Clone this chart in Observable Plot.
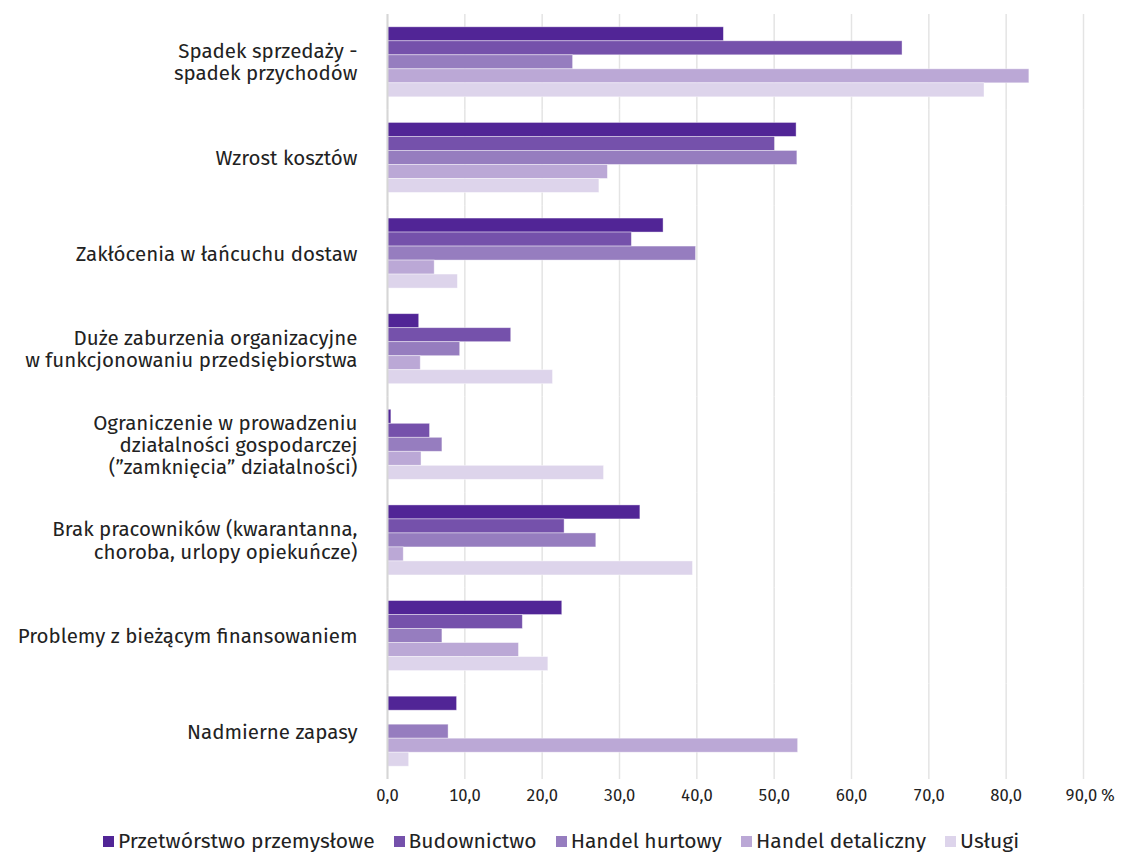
<!DOCTYPE html>
<html>
<head>
<meta charset="utf-8">
<script src="https://cdn.jsdelivr.net/npm/d3@7"></script>
<script src="https://cdn.jsdelivr.net/npm/@observablehq/plot@0.6"></script>
<style>
  body { margin: 0; background: #fff; font-family: "Fira Sans", Roboto, sans-serif; }
  #legend { display: flex; justify-content: center; align-items: center; gap: 19px; font-size: 21px; color: #222; height: 36px; padding-top: 12px; }
  #legend .item { display: flex; align-items: center; gap: 4px; }
  #legend .sw { width: 11px; height: 11px; display: inline-block; }
</style>
</head>
<body>
<div id="chart"></div>
<div id="legend"></div>
<script>
const categories = [
  "Spadek sprzedaży -\nspadek przychodów",
  "Wzrost kosztów",
  "Zakłócenia w łańcuchu dostaw",
  "Duże zaburzenia organizacyjne\nw funkcjonowaniu przedsiębiorstwa",
  "Ograniczenie w prowadzeniu\ndziałalności gospodarczej\n(”zamknięcia” działalności)",
  "Brak pracowników (kwarantanna,\nchoroba, urlopy opiekuńcze)",
  "Problemy z bieżącym finansowaniem",
  "Nadmierne zapasy"
];
const series = ["Przetwórstwo przemysłowe", "Budownictwo", "Handel hurtowy", "Handel detaliczny", "Usługi"];
const przetworstwo = [43.5, 52.9, 35.7, 4.1, 0.5, 32.7, 22.6, 9.0];
const budownictwo  = [66.6, 50.1, 31.6, 16.0, 5.5, 22.9, 17.5, null];
const hurtowy      = [24.0, 53.0, 39.9, 9.4, 7.1, 27.0, 7.1, 7.9];
const detaliczny   = [83.0, 28.5, 6.1, 4.3, 4.4, 2.1, 17.0, 53.1];
const uslugi       = [77.2, 27.4, 9.1, 21.4, 28.0, 39.5, 20.8, 2.8];
const xTicks = [0, 10, 20, 30, 40, 50, 60, 70, 80, 90];
const colors = ["#512596", "#7551ab", "#967dbf", "#bba8d6", "#ddd4eb"];

const valuesBySeries = [przetworstwo, budownictwo, hurtowy, detaliczny, uslugi];
const data = [];
categories.forEach((c, i) => {
  series.forEach((s, j) => {
    const v = valuesBySeries[j][i];
    if (v != null) data.push({category: c, series: s, value: v});
  });
});

const fmt = d => d.toFixed(1).replace(".", ",");

const chart = Plot.plot({
  width: 1122,
  height: 811,
  marginLeft: 387,
  marginRight: 39,
  marginTop: 14,
  marginBottom: 32,
  style: { fontFamily: "'Fira Sans', Roboto, sans-serif", color: "#222", background: "#fff" },
  x: { domain: [0, 90], ticks: xTicks, axis: null, label: null },
  fy: { domain: categories, padding: 0, round: false, axis: null, label: null },
  y: { domain: series, paddingInner: 0, paddingOuter: 0.914, round: false, axis: null, label: null },
  color: { domain: series, range: colors },
  marks: [
    Plot.gridX(xTicks, { stroke: "#e4e4e4", strokeOpacity: 1, strokeWidth: 1.5 }),
    Plot.barX(data, { fy: "category", y: "series", x: "value", fill: "series", stroke: "#fff", strokeOpacity: 0.5, strokeWidth: 0.8 }),
    Plot.ruleX([0], { stroke: "#d6d6d6", strokeWidth: 2 }),
    Plot.axisFy({ anchor: "left", tickSize: 0, tickPadding: 30, fontSize: 20.5, lineHeight: 1.08, textAnchor: "end", label: null }),
    Plot.axisX(xTicks.slice(0, -1), { tickSize: 0, tickPadding: 10, fontSize: 16.5, tickFormat: fmt, label: null }),
    Plot.axisX([90], { tickSize: 0, tickPadding: 10, fontSize: 16.5, tickFormat: d => fmt(d) + "\u2009%", dx: 7, label: null })
  ]
});
document.getElementById("chart").appendChild(chart);

const legend = document.getElementById("legend");
series.forEach((s, j) => {
  const item = document.createElement("span");
  item.className = "item";
  const sw = document.createElement("span");
  sw.className = "sw";
  sw.style.background = colors[j];
  const t = document.createElement("span");
  t.textContent = s;
  item.appendChild(sw);
  item.appendChild(t);
  legend.appendChild(item);
});
</script>
</body>
</html>
